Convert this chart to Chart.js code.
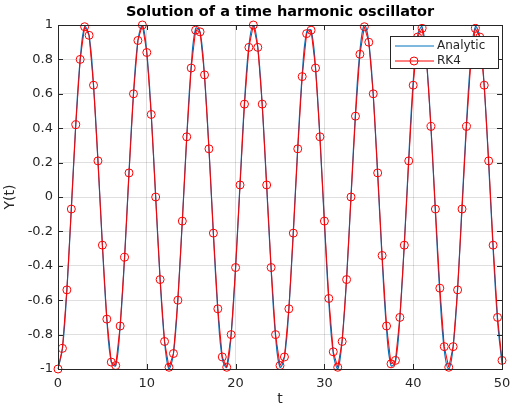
<!DOCTYPE html>
<html>
<head>
<meta charset="utf-8">
<script src="https://cdn.jsdelivr.net/npm/chart.js@4.4.0/dist/chart.umd.min.js"></script>
<style>
  body { margin: 0; background: #fff; }
  canvas { display: block; }
</style>
</head>
<body>
<canvas id="chart" width="512" height="408"></canvas>
<script>
const tValues = [
  0, 0.5, 1, 1.5, 2, 2.5, 3, 3.5, 4, 4.5,
  5, 5.5, 6, 6.5, 7, 7.5, 8, 8.5, 9, 9.5,
  10, 10.5, 11, 11.5, 12, 12.5, 13, 13.5, 14, 14.5,
  15, 15.5, 16, 16.5, 17, 17.5, 18, 18.5, 19, 19.5,
  20, 20.5, 21, 21.5, 22, 22.5, 23, 23.5, 24, 24.5,
  25, 25.5, 26, 26.5, 27, 27.5, 28, 28.5, 29, 29.5,
  30, 30.5, 31, 31.5, 32, 32.5, 33, 33.5, 34, 34.5,
  35, 35.5, 36, 36.5, 37, 37.5, 38, 38.5, 39, 39.5,
  40, 40.5, 41, 41.5, 42, 42.5, 43, 43.5, 44, 44.5,
  45, 45.5, 46, 46.5, 47, 47.5, 48, 48.5, 49, 49.5,
  50
];

const analyticY = [
  -1, -0.88, -0.54, -0.07, 0.42, 0.80, 0.99, 0.94, 0.65, 0.21,
  -0.28, -0.71, -0.96, -0.98, -0.75, -0.35, 0.15, 0.60, 0.91, 1.00,
  0.84, 0.48, 0.00, -0.48, -0.84, -1.00, -0.91, -0.59, -0.14, 0.35,
  0.76, 0.98, 0.96, 0.70, 0.28, -0.22, -0.66, -0.94, -0.99, -0.80,
  -0.41, 0.08, 0.55, 0.88, 1.00, 0.87, 0.53, 0.06, -0.42, -0.81,
  -0.99, -0.93, -0.65, -0.20, 0.29, 0.71, 0.96, 0.97, 0.75, 0.34,
  -0.15, -0.61, -0.91, -1.00, -0.83, -0.47, 0.01, 0.49, 0.85, 1.00,
  0.90, 0.59, 0.13, -0.36, -0.77, -0.98, -0.96, -0.70, -0.27, 0.23,
  0.67, 0.94, 0.99, 0.79, 0.40, -0.09, -0.56, -0.89, -1.00, -0.87,
  -0.53, -0.05, 0.43, 0.81, 0.99, 0.93, 0.64, 0.19, -0.30, -0.72,
  -0.97
];

const rk4Y = [
  -1, -0.88, -0.54, -0.07, 0.42, 0.80, 0.99, 0.94, 0.65, 0.21,
  -0.28, -0.71, -0.96, -0.98, -0.75, -0.35, 0.14, 0.60, 0.91, 1.00,
  0.84, 0.48, 0.00, -0.48, -0.84, -0.99, -0.91, -0.60, -0.14, 0.35,
  0.75, 0.97, 0.96, 0.71, 0.28, -0.21, -0.65, -0.93, -0.99, -0.80,
  -0.41, 0.07, 0.54, 0.87, 1.00, 0.87, 0.54, 0.07, -0.41, -0.80,
  -0.98, -0.93, -0.65, -0.21, 0.28, 0.70, 0.95, 0.97, 0.75, 0.35,
  -0.14, -0.59, -0.90, -0.99, -0.84, -0.48, 0.00, 0.47, 0.83, 0.99,
  0.90, 0.60, 0.14, -0.34, -0.75, -0.97, -0.95, -0.70, -0.28, 0.21,
  0.65, 0.93, 0.98, 0.80, 0.41, -0.07, -0.53, -0.87, -0.99, -0.87,
  -0.54, -0.07, 0.41, 0.79, 0.98, 0.93, 0.65, 0.21, -0.28, -0.70,
  -0.95
];

const xTicks = [0, 10, 20, 30, 40, 50];
const yTicks = [-1, -0.8, -0.6, -0.4, -0.2, 0, 0.2, 0.4, 0.6, 0.8, 1];

const axisColor = "#262626";
const gridColor = "rgba(38,38,38,0.15)";
const fontFamily = "'DejaVu Sans', sans-serif";

// box, inward ticks, title and legend drawn the Octave way
const octaveFrame = {
  id: "octaveFrame",
  afterDatasetsDraw(chart) {
    const ctx = chart.ctx;
    const area = chart.chartArea;
    const xs = chart.scales.x;
    const ys = chart.scales.y;
    const tick = 5;

    ctx.save();
    ctx.strokeStyle = axisColor;
    ctx.lineWidth = 1;
    ctx.beginPath();
    xTicks.forEach(v => {
      const px = Math.round(xs.getPixelForValue(v)) + 0.5;
      ctx.moveTo(px, area.bottom); ctx.lineTo(px, area.bottom - tick);
      ctx.moveTo(px, area.top); ctx.lineTo(px, area.top + tick);
    });
    yTicks.forEach(v => {
      const py = Math.round(ys.getPixelForValue(v)) + 0.5;
      ctx.moveTo(area.left, py); ctx.lineTo(area.left + tick, py);
      ctx.moveTo(area.right, py); ctx.lineTo(area.right - tick, py);
    });
    ctx.stroke();
    ctx.strokeRect(Math.round(area.left) + 0.5, Math.round(area.top) + 0.5,
      Math.round(area.right - area.left), Math.round(area.bottom - area.top));

    // title
    ctx.fillStyle = "#000";
    ctx.font = "bold 14.5px " + fontFamily;
    ctx.textAlign = "center";
    ctx.textBaseline = "middle";
    ctx.fillText("Solution of a time harmonic oscillator", (area.left + area.right) / 2, 12.5);

    // legend
    const lx = 390.5, ly = 36.5, lw = 108, lh = 32;
    ctx.fillStyle = "#fff";
    ctx.fillRect(lx, ly, lw, lh);
    ctx.strokeStyle = axisColor;
    ctx.strokeRect(lx, ly, lw, lh);

    ctx.font = "12px " + fontFamily;
    ctx.textAlign = "left";
    ctx.fillStyle = axisColor;

    ctx.strokeStyle = "#0072bd";
    ctx.beginPath();
    ctx.moveTo(395, 46); ctx.lineTo(434, 46);
    ctx.stroke();
    ctx.fillText("Analytic", 437, 46);

    ctx.strokeStyle = "#ff0000";
    ctx.beginPath();
    ctx.moveTo(395, 61); ctx.lineTo(434, 61);
    ctx.stroke();
    ctx.beginPath();
    ctx.arc(414, 61, 4, 0, Math.PI * 2);
    ctx.stroke();
    ctx.fillText("RK4", 437, 61);
    ctx.restore();
  }
};

const ctx = document.getElementById("chart").getContext("2d");

new Chart(ctx, {
  type: "line",
  data: {
    datasets: [
      {
        label: "RK4",
        data: tValues.map((t, i) => ({ x: t, y: rk4Y[i] })),
        borderColor: "#ff0000",
        borderWidth: 1,
        pointStyle: "circle",
        pointRadius: 4,
        pointBorderWidth: 1,
        pointBorderColor: "#ff0000",
        pointBackgroundColor: "rgba(0,0,0,0)",
        tension: 0,
        clip: false
      },
      {
        label: "Analytic",
        data: tValues.map((t, i) => ({ x: t, y: analyticY[i] })),
        borderColor: "#0072bd",
        borderWidth: 1.2,
        pointRadius: 0,
        tension: 0.4
      }
    ]
  },
  options: {
    responsive: false,
    animation: false,
    layout: { padding: { top: 25, right: 10, left: 0, bottom: 0 } },
    plugins: {
      legend: { display: false },
      title: { display: false },
      tooltip: { enabled: false }
    },
    scales: {
      x: {
        type: "linear",
        min: 0,
        max: 50,
        afterBuildTicks: s => { s.ticks = xTicks.map(v => ({ value: v })); },
        afterFit: s => { s.height = 39; s.paddingLeft = 0; s.paddingRight = 0; },
        grid: { color: gridColor, drawTicks: false },
        border: { display: false },
        ticks: { padding: 7, color: axisColor, font: { family: fontFamily, size: 13 } },
        title: {
          display: true, text: "t", color: axisColor,
          font: { family: fontFamily, size: 14 },
          padding: { top: 0, bottom: 0 }
        }
      },
      y: {
        type: "linear",
        min: -1,
        max: 1,
        afterBuildTicks: s => { s.ticks = yTicks.map(v => ({ value: v })); },
        afterFit: s => { s.width = 58; s.paddingTop = 0; s.paddingBottom = 0; },
        grid: { color: gridColor, drawTicks: false },
        border: { display: false },
        ticks: {
          padding: 5, color: axisColor, font: { family: fontFamily, size: 13 },
          callback: v => String(Math.round(v * 10) / 10)
        },
        title: {
          display: true, text: "Y(t)", color: axisColor,
          font: { family: fontFamily, size: 14 },
          padding: { top: 2, bottom: 2 }
        }
      }
    }
  },
  plugins: [octaveFrame]
});
</script>
</body>
</html>
